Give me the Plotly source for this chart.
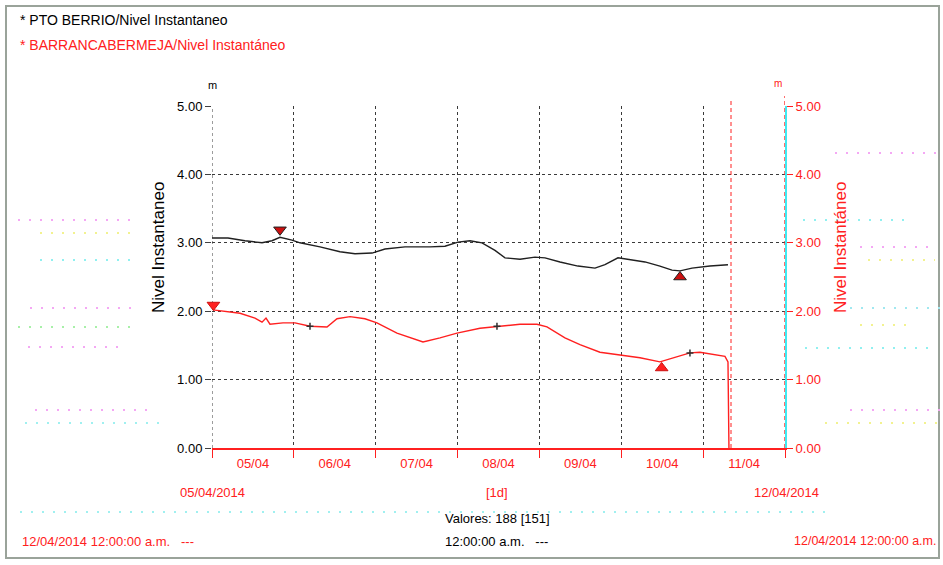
import plotly.graph_objects as go

# ---------------- data ----------------
black_name = "PTO BERRIO/Nivel Instantaneo"
red_name = "BARRANCABERMEJA/Nivel Instantáneo"

black_time = [
    "2014-04-05 00:00", "2014-04-05 04:41", "2014-04-05 09:40", "2014-04-05 14:40",
    "2014-04-05 17:35", "2014-04-05 19:56", "2014-04-05 23:27", "2014-04-06 01:48",
    "2014-04-06 07:40", "2014-04-06 13:32", "2014-04-06 17:55", "2014-04-06 22:55",
    "2014-04-07 02:43", "2014-04-07 08:35", "2014-04-07 15:55", "2014-04-07 20:18",
    "2014-04-08 00:07", "2014-04-08 03:38", "2014-04-08 07:10", "2014-04-08 10:58",
    "2014-04-08 13:54", "2014-04-08 18:18", "2014-04-08 22:42", "2014-04-09 01:38",
    "2014-04-09 06:02", "2014-04-09 11:18", "2014-04-09 16:17", "2014-04-09 19:13",
    "2014-04-09 23:02", "2014-04-10 03:08", "2014-04-10 06:57", "2014-04-10 11:20",
    "2014-04-10 14:52", "2014-04-10 17:13", "2014-04-10 20:44", "2014-04-11 02:00",
    "2014-04-11 07:17",
]
black_value = [
    3.07, 3.07, 3.03, 3.00, 3.03, 3.08, 3.04, 3.00,
    2.94, 2.87, 2.84, 2.85, 2.91, 2.94, 2.94, 2.95,
    3.01, 3.03, 3.00, 2.89, 2.78, 2.76, 2.79, 2.78,
    2.72, 2.66, 2.63, 2.68, 2.78, 2.75, 2.72, 2.66,
    2.60, 2.59, 2.63, 2.66, 2.68,
]

red_time = [
    "2014-04-05 00:18", "2014-04-05 03:49", "2014-04-05 08:13", "2014-04-05 12:36",
    "2014-04-05 14:40", "2014-04-05 15:50", "2014-04-05 17:00", "2014-04-05 20:49",
    "2014-04-06 00:20", "2014-04-06 04:44", "2014-04-06 09:43", "2014-04-06 12:39",
    "2014-04-06 16:28", "2014-04-06 20:51", "2014-04-07 00:22", "2014-04-07 06:14",
    "2014-04-07 13:52", "2014-04-07 18:51", "2014-04-07 23:50", "2014-04-08 06:34",
    "2014-04-08 11:33", "2014-04-08 18:18", "2014-04-08 23:17", "2014-04-09 02:13",
    "2014-04-09 07:29", "2014-04-09 11:53", "2014-04-09 17:45", "2014-04-09 23:37",
    "2014-04-10 05:29", "2014-04-10 11:20", "2014-04-10 15:44", "2014-04-10 20:08",
    "2014-04-10 23:04", "2014-04-11 03:28", "2014-04-11 06:24", "2014-04-11 07:17",
    "2014-04-11 07:34",
]
red_value = [
    2.02, 2.00, 1.97, 1.90, 1.84, 1.90, 1.81, 1.83,
    1.83, 1.78, 1.77, 1.89, 1.92, 1.89, 1.83, 1.68,
    1.55, 1.61, 1.68, 1.75, 1.78, 1.81, 1.81, 1.77,
    1.61, 1.51, 1.40, 1.36, 1.32, 1.26, 1.33, 1.39,
    1.40, 1.37, 1.34, 1.26, 0.00,
]

# max / min markers
black_max = ("2014-04-05 19:56", 3.19)
black_min = ("2014-04-10 17:13", 2.50)
red_max = ("2014-04-05 00:25", 2.09)
red_min = ("2014-04-10 11:50", 1.17)
red_marks_time = ["2014-04-06 04:44", "2014-04-08 11:33", "2014-04-10 20:08"]
red_marks_value = [1.78, 1.78, 1.39]

now_time = "2014-04-11 08:10"
end_marker = ("2014-04-12 00:00", 5.15)

day_labels = ["05/04", "06/04", "07/04", "08/04", "09/04", "10/04", "11/04"]
day_label_pos = ["2014-04-%02d 12:00" % d for d in range(5, 12)]
day_bounds = ["2014-04-%02d 00:00" % d for d in range(5, 13)]
y_ticks = [0, 1, 2, 3, 4, 5]

x_start, x_end = "2014-04-05 00:00", "2014-04-12 00:00"

# ---------------- style ----------------
FONT = "Liberation Sans, Arial, sans-serif"
FS = 13
RED = "#ff2020"
GRID = "#3a3a3a"
W, H = 943, 565
L, R, T, B = 212, 158, 106, 117
PW, PH = W - L - R, H - T - B


def px(x):
    return (x - L) / PW


def py(y):
    return (H - B - y) / PH


fig = go.Figure()

fig.add_trace(go.Scatter(x=black_time, y=black_value, mode="lines",
                         line=dict(color="#202020", width=1.4), name=black_name,
                         yaxis="y"))
fig.add_trace(go.Scatter(x=red_time, y=red_value, mode="lines",
                         line=dict(color=RED, width=1.4), name=red_name,
                         yaxis="y2"))
fig.add_trace(go.Scatter(x=red_marks_time, y=red_marks_value, mode="markers",
                         marker=dict(symbol="cross-thin", size=5,
                                     line=dict(color="#303030", width=1.5)),
                         yaxis="y2", showlegend=False))
fig.add_trace(go.Scatter(x=[black_max[0]], y=[black_max[1]], mode="markers",
                         marker=dict(symbol="triangle-down", size=11, color="#cc1010",
                                     line=dict(color="#202020", width=1)),
                         yaxis="y", showlegend=False))
fig.add_trace(go.Scatter(x=[black_min[0]], y=[black_min[1]], mode="markers",
                         marker=dict(symbol="triangle-up", size=11, color="#cc1010",
                                     line=dict(color="#202020", width=1)),
                         yaxis="y", showlegend=False))
fig.add_trace(go.Scatter(x=[red_max[0]], y=[red_max[1]], mode="markers",
                         marker=dict(symbol="triangle-down", size=11, color=RED,
                                     line=dict(color="#cc1010", width=1)),
                         yaxis="y2", showlegend=False, cliponaxis=False))
fig.add_trace(go.Scatter(x=[red_min[0]], y=[red_min[1]], mode="markers",
                         marker=dict(symbol="triangle-up", size=11, color=RED,
                                     line=dict(color="#cc1010", width=1)),
                         yaxis="y2", showlegend=False))
fig.add_trace(go.Scatter(x=[end_marker[0]], y=[end_marker[1]], mode="markers",
                         marker=dict(symbol="square", size=12, color="#0018ff",
                                     line=dict(color="#0010c0", width=1)),
                         yaxis="y2", showlegend=False, cliponaxis=False))
# invisible trace carrying the label axis (x2)
fig.add_trace(go.Scatter(x=[x_start, x_end], y=[None, None], mode="lines",
                         xaxis="x2", yaxis="y", showlegend=False, hoverinfo="skip"))

shapes = []
# left edge dotted grid line (plotly omits the grid at the range edge)
shapes.append(dict(type="line", xref="x", yref="paper", x0=x_start, x1=x_start,
                   y0=0, y1=1, line=dict(color=GRID, width=1, dash="dot"),
                   layer="below"))
# "now" line and right-axis red dashes
shapes.append(dict(type="line", xref="x", yref="paper", x0=now_time, x1=now_time,
                   y0=0, y1=py(100), line=dict(color=RED, width=1, dash="4px,3px")))
shapes.append(dict(type="line", xref="x", yref="paper", x0=x_end, x1=x_end,
                   y0=0, y1=py(96), line=dict(color=RED, width=1.3, dash="4px,3px")))
# frame
shapes.append(dict(type="rect", xref="paper", yref="paper", x0=px(6), x1=px(939),
                   y0=py(558), y1=py(6), line=dict(color="#9aa39a", width=2),
                   layer="below"))
# faint ghost dotted lines
ghosts = [
    (18, 135, 220, "#f4a8f4"), (40, 135, 233, "#f2f290"), (40, 135, 260, "#90f0f0"),
    (30, 135, 308, "#f4a8f4"), (18, 135, 327, "#a8f0a8"), (28, 125, 347, "#f4a8f4"),
    (35, 155, 410, "#f4a8f4"), (25, 165, 423, "#a0f0f0"),
    (835, 943, 153, "#f4a8f4"), (803, 910, 220, "#90f0f0"), (860, 930, 247, "#f4a8f4"),
    (868, 935, 260, "#f2f290"), (850, 943, 308, "#a0e8f0"), (860, 915, 325, "#f2f290"),
    (805, 930, 348, "#90f0f0"), (850, 943, 410, "#f4a8f4"), (825, 943, 423, "#f2f290"),
    (20, 830, 512, "#a0f0f0"),
]
for x0, x1, y, c in ghosts:
    shapes.append(dict(type="line", xref="paper", yref="paper", x0=px(x0), x1=px(x1),
                       y0=py(y), y1=py(y), line=dict(color=c, width=2, dash="2px,9px"),
                       layer="below"))

ann = []


def text(x, y, s, color="black", anchor="left", size=FS, angle=0):
    ann.append(dict(xref="paper", yref="paper", x=px(x), y=py(y), text=s,
                    showarrow=False, xanchor=anchor, yanchor="middle",
                    textangle=angle, font=dict(family=FONT, size=size, color=color)))


text(18, 20, "* " + black_name, "black", size=14)
text(18, 45, "* " + red_name, RED, size=14)
text(212, 85, "m", "black", "center", 11)
text(778, 83, "m", RED, "center", 10)
text(158, 248, "Nivel Instantaneo", "black", "center", 17, -90)
text(840, 248, "Nivel Instantáneo", RED, "center", 17, -90)
text(212, 492, "05/04/2014", RED, "center")
text(497, 492, "[1d]", RED, "center")
text(786, 492, "12/04/2014", RED, "center")
text(497, 518, "Valores: 188 [151]", "black", "center")
text(20, 541, "12/04/2014 12:00:00 a.m.   ---", RED, "left")
text(443, 541, "12:00:00 a.m.   ---", "black", "left")
text(792, 541, "12/04/2014 12:00:00 a.m.", RED, "left", 12.5)

fig.update_layout(
    width=W, height=H,
    margin=dict(l=L, r=R, t=T, b=B, autoexpand=False),
    paper_bgcolor="white", plot_bgcolor="white",
    showlegend=False,
    font=dict(family=FONT, size=FS, color="black"),
    shapes=shapes, annotations=ann,
    xaxis=dict(
        type="date", range=[x_start, x_end],
        tickmode="array", tickvals=day_bounds, showticklabels=False,
        ticks="outside", ticklen=8, tickcolor=RED, tickwidth=1,
        showgrid=True, gridcolor=GRID, gridwidth=1, griddash="dot",
        zeroline=False, showline=True, linecolor=RED, linewidth=2,
    ),
    xaxis2=dict(
        type="date", range=[x_start, x_end], overlaying="x", side="bottom",
        anchor="y", tickmode="array", tickvals=day_label_pos, ticktext=day_labels,
        ticks="", showgrid=False, zeroline=False, showline=False,
        tickfont=dict(color=RED, size=FS, family=FONT),
        ticklabelstandoff=6,
    ),
    yaxis=dict(
        range=[0, 5], tickmode="array", tickvals=y_ticks, tickformat=".2f",
        ticks="outside", ticklen=6, tickcolor="#404040",
        showgrid=True, gridcolor=GRID, gridwidth=1, griddash="dot",
        zeroline=False, showline=False,
        tickfont=dict(color="black", size=FS, family=FONT),
    ),
    yaxis2=dict(
        range=[0, 5], overlaying="y", side="right",
        tickmode="array", tickvals=y_ticks, tickformat=".2f",
        ticks="outside", ticklen=6, tickcolor=RED,
        showgrid=False, zeroline=False,
        showline=True, linecolor="#40e8f0", linewidth=2,
        tickfont=dict(color=RED, size=FS, family=FONT),
    ),
)

fig.write_html("out.html",
               config={"displayModeBar": False},
               post_script="document.body.style.margin='0';"
                           "document.body.style.overflow='hidden';")
